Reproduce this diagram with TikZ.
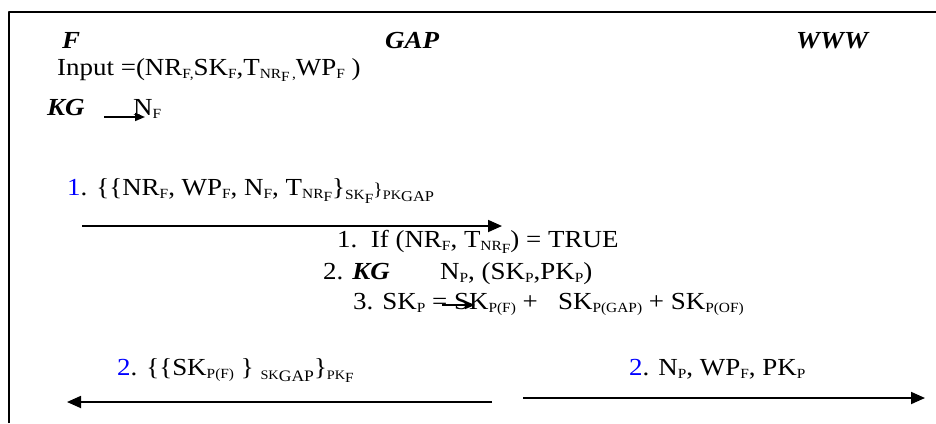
\documentclass[tikz,border=0pt]{standalone}
\usepackage{fontspec}
\setmainfont{Liberation Serif}[FakeStretch=1.1]
\usetikzlibrary{arrows.meta}
\newcommand{\fs}[1]{\fontsize{#1}{#1}\selectfont}
\newcommand{\lo}[1]{\raisebox{-0.3ex}{\fs{14}#1}}
\newcommand{\llo}[1]{\raisebox{-0.55ex}{\fs{14}#1}}
\newcommand{\num}[1]{\textcolor{blue}{#1}}
\begin{document}
\begin{tikzpicture}[x=1pt, y=-1pt, font=\fs{24.5}, line join=round,
  >={Triangle[length=14pt,width=12pt]},
  actor/.style={anchor=base west, inner sep=0pt, font=\fs{24.5}\bfseries\itshape},
  txt/.style={anchor=base west, inner sep=0pt},
  msg/.style={->, line width=1.8pt},
  kgarrow/.style={-{Triangle[length=10pt,width=8pt]}, line width=1.6pt}]
  \useasboundingbox (0,0) rectangle (936,423);
  \draw[line width=1.8pt] (9,423)--(9,12)--(936,12);
  % parties
  \node[actor] (F) at (62,48) {F};
  \node[actor] (GAP) at (385,48) {GAP};
  \node[actor] (WWW) at (796,48) {WWW};
  \node[txt] (input) at (57,75) {Input =(NR\lo{F,}SK\lo{F},T\lo{NR\llo{F}\,,}WP\lo{F} )};
  \node[actor] (KG) at (47,115) {KG};
  \node[txt] (NF) at (133,115) {N\lo{F}};
  \coordinate (kgtail) at (104,117); \coordinate (kghead) at (145,117);
  \draw[kgarrow] (kgtail)--(kghead);
  % message 1
  \node[txt] (m1) at (67,195) {\num{1}. \{\{NR\lo{F}, WP\lo{F}, N\lo{F}, T\lo{NR\llo{F}}\}\raisebox{-0.4ex}{\fs{14}SK\llo{F}}{\fs{18}\}}\raisebox{-0.4ex}{\fs{13}PK\raisebox{-0.3ex}{\fs{15}GAP}}};
  \coordinate (m1s) at (82,226); \coordinate (m1e) at (502,226);
  \draw[msg] (m1s)--(m1e);
  % GAP steps
  \node[txt] (s1) at (337,247) {1.\ \ If (NR\lo{F}, T\lo{NR\llo{F}}) = TRUE};
  \node[txt] (s2) at (323,279) {2. \textbf{\textit{KG}}};
  \node[txt] (s2b) at (440,279) {N\lo{P}, (SK\lo{P},PK\lo{P})};
  \node[txt] (s3) at (353,309) {3. SK\lo{P} = SK\lo{P(F)} +\ \ \ SK\lo{P(GAP)} + SK\lo{P(OF)}};
  \coordinate (kg2tail) at (442,305); \coordinate (kg2head) at (475,305);
  \draw[kgarrow] (kg2tail)--(kg2head);
  % message 2
  \node[txt] (m2) at (117,375) {\num{2}. \{\{SK\lo{P(F)} \} \raisebox{-0.4ex}{\fs{13}SK\raisebox{-0.3ex}{\fs{16}GAP}}\}\raisebox{-0.4ex}{\fs{13}PK\llo{F}}};
  \coordinate (m2s) at (492,402); \coordinate (m2e) at (67,402);
  \draw[msg] (m2s)--(m2e);
  \node[txt] (m3) at (629,375) {\num{2}. N\lo{P}, WP\lo{F}, PK\lo{P}};
  \coordinate (m3s) at (523,398); \coordinate (m3e) at (925,398);
  \draw[msg] (m3s)--(m3e);
\end{tikzpicture}
\end{document}
